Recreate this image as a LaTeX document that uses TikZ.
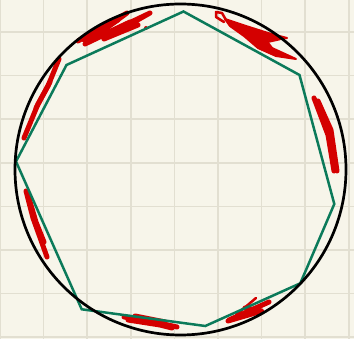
\documentclass[tikz,border=0pt]{standalone}
\definecolor{bg}{HTML}{F7F5EA}
\definecolor{gridc}{HTML}{E2DFD1}
\definecolor{poly}{HTML}{0B7A5A}
\definecolor{scrib}{HTML}{D40000}
\begin{document}
\begin{tikzpicture}[x=1pt,y=-1pt,
  gridline/.style={gridc, line width=1.5pt},
  ring/.style={circle, draw=black, line width=2.7pt, minimum size=331pt, inner sep=0pt},
  polyline/.style={poly, line width=2.5pt, line join=miter},
  scribble/.style={scrib, line width=5pt, line cap=round, line join=round},
  thinscribble/.style={scrib, line width=2.5pt, line cap=round, line join=round}]
\fill[bg] (0,0) rectangle (354,339);
\useasboundingbox (0,0) rectangle (354,339);
\foreach \i in {0,...,8} \draw[gridline] (43.6*\i,0) -- (43.6*\i,339);
\foreach \j in {-1,...,7} \draw[gridline] (0,32+43.6*\j) -- (354,32+43.6*\j);
% red scribbles
% top-left
\draw[scribble] (78,41) -- (127,13) -- (85,44) -- (150,13) -- (104,39) -- (138,25);
\draw[scribble] (84,40) -- (118,20);
\draw[scribble] (92,40) -- (130,22);
\fill[scrib] (146,28) circle (2pt);
% left upper
\draw[scribble] (24,138) -- (38,104) -- (48,86) -- (59,59);
\draw[scribble] (36,108) -- (50,82);
% left lower
\draw[scribble] (26,191) -- (33,218) -- (47,257);
\draw[scribble] (28,195) -- (36,222) -- (44,242);
% bottom
\draw[scribble] (124,317) -- (150,321) -- (177,327);
\draw[scribble] (128,320) -- (160,325) -- (172,328);
\draw[scribble] (135,316) -- (165,322);
% bottom right
\draw[thinscribble] (236,315) -- (256,298);
\draw[scribble] (229,320) -- (269,302);
\draw[scribble] (228,321) -- (262,311) -- (245,308);
% right
\draw[scribble] (314,98) -- (328,135) -- (334,171);
\draw[scribble] (318,101) -- (331,130) -- (337,171);
% top right
\draw[thinscribble] (224,22) -- (216,17) -- (216,12) -- (222,13) -- (226,20);
\fill[scrib, draw=scrib, line width=2pt, line join=round]
  (225,19) -- (246,26) -- (268,33) -- (287,38) -- (266,40) -- (272,48)
  -- (296,59) -- (276,56) -- (258,48) -- (244,36) -- (230,26) -- cycle;
\draw[thinscribble] (262,43) -- (280,39);
% polygon
\coordinate (p1) at (183.5,11.5);
\coordinate (p2) at (299.5,75);
\coordinate (p3) at (334.3,204);
\coordinate (p4) at (300.3,283.3);
\coordinate (p5) at (205.3,326);
\coordinate (p6) at (81.7,309.3);
\coordinate (p7) at (16,161.5);
\coordinate (p8) at (66.5,65);
\draw[polyline] (p1) -- (p2) -- (p3) -- (p4) -- (p5) -- (p6) -- (p7) -- (p8) -- cycle;
% circle
\node[ring] (c) at (180.5,169.5) {};
\end{tikzpicture}
\end{document}
